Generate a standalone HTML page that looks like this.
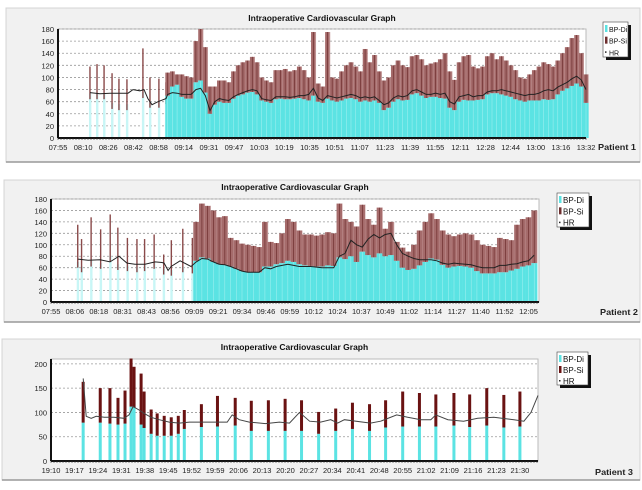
<!DOCTYPE html>
<html><head><meta charset="utf-8">
<style>
html,body{margin:0;padding:0;background:#fff;}
svg{display:block;font-family:"Liberation Sans",sans-serif;}
</style></head>
<body>
<svg id="chart" width="642" height="490" viewBox="0 0 642 490" xmlns="http://www.w3.org/2000/svg"></svg>
<script>
// ---------- Patient 1 data ----------
const p1XLabels = ["07:55","08:10","08:26","08:42","08:58","09:14","09:31","09:47","10:03","10:19","10:35","10:51","11:07","11:23","11:39","11:55","12:11","12:28","12:44","13:00","13:16","13:32"];
const p1SparseT = [20.4,24.9,29.4,34.5,38.9,44,54.2,58.7,64.4,68.9];
const p1SparseSys = [118,122,120,107,98,97,148,100,98,92];
const p1SparseDia = [74,74,74,58,56,56,76,60,60,66];
const p1SparseHrT = [20.4,26.8,33.2,44.7,47.9,52.3,54.9,57.4,60,63.8,68.9];
const p1SparseHr = [75,73,74,74,80,78,80,65,55,60,65];
const p1DenseStart = 70, p1DenseStep = 3;
const p1Sys = [108,110,105,105,102,100,160,180,150,85,85,95,95,92,110,120,125,128,134,125,100,95,92,112,112,114,110,112,118,112,100,175,90,85,175,100,98,110,120,125,118,110,147,125,137,110,95,100,120,128,120,117,135,137,130,120,123,125,130,140,110,96,125,135,137,118,115,118,135,140,130,135,128,120,112,100,98,105,112,118,125,122,118,128,140,150,165,170,140,105];
const p1Dia = [70,85,88,68,65,65,92,95,75,40,55,60,58,58,65,70,72,75,76,72,62,60,58,64,65,64,64,65,66,64,62,70,60,58,65,62,60,62,65,66,64,60,62,60,62,58,46,50,60,64,62,63,72,74,70,66,68,68,66,65,50,46,60,63,62,62,63,64,72,74,74,72,70,68,64,62,60,62,62,62,64,63,64,72,78,82,86,90,85,58];
const p1Hr = [72,75,74,72,72,72,80,82,70,45,60,65,63,62,68,72,75,78,80,78,65,63,62,68,68,68,67,68,70,70,72,82,66,62,70,68,66,68,70,72,70,66,68,66,68,62,55,58,66,70,68,70,78,80,76,72,72,74,72,74,60,56,68,70,72,68,70,70,76,78,78,80,78,76,74,72,70,72,72,74,78,80,78,84,88,92,98,102,96,80];

// ---------- Patient 2 data ----------
const p2XLabels = ["07:55","08:06","08:18","08:31","08:43","08:56","09:09","09:21","09:34","09:46","09:59","10:12","10:24","10:37","10:49","11:02","11:14","11:27","11:40","11:52","12:05"];
const p2SparseT = [14,16,21,26,31,35,40,45,49,54,59,63,69,74];
const p2SparseSys = [135,110,148,127,153,130,112,110,110,118,83,108,128,112];
const p2SparseDia = [70,62,72,68,80,66,64,62,64,68,58,56,62,60];
const p2SparseHrT = [14.1,19.4,25.7,30.9,35.6,39.8,44,49.2,54.5,58.1,59.2,61.3,62.9,67.6,73.3];
const p2SparseHr = [75,73,74,70,80,68,66,66,70,69,68,55,62,72,62];
const p2DenseStart = 76, p2DenseStep = 3;
const p2Sys = [140,172,168,160,148,150,112,108,102,100,98,96,140,105,103,120,145,140,125,118,118,116,118,122,120,172,145,140,132,170,145,135,165,128,140,105,95,88,100,125,140,155,145,125,118,115,118,120,118,108,100,98,96,112,110,108,135,145,148,160];
const p2Dia = [72,78,76,70,66,65,62,58,54,52,52,52,62,62,66,68,72,70,66,64,63,62,62,64,63,78,75,80,70,88,82,78,85,80,82,72,60,56,58,64,70,76,74,65,60,62,63,62,60,54,50,50,50,52,52,55,58,62,64,68];
const p2Hr = [70,76,75,70,66,65,62,58,54,52,52,52,60,58,62,64,66,64,62,62,62,61,60,60,60,80,85,108,100,96,110,118,112,118,120,100,85,80,76,74,74,74,72,68,66,68,67,66,65,62,60,60,60,64,64,66,67,70,72,82];

// ---------- Patient 3 data ----------
const p3XLabels = ["19:10","19:17","19:24","19:31","19:38","19:45","19:52","19:59","20:06","20:13","20:20","20:27","20:34","20:41","20:48","20:55","21:02","21:09","21:16","21:23","21:30"];
const p3T = [9.6,14.7,17.6,20,22.1,23.9,24.8,26.9,27.8,29.9,31.7,33.8,35.9,38,39.8,44.9,49.7,55,59.8,64.9,69.9,74.8,79.9,85,90,95.1,99.9,105,110,114.9,120.3,125,130.1,135.2,140];
const p3Sys = [163,150,150,130,145,211,194,180,143,106,98,93,90,93,105,117,134,130,124,125,128,125,101,108,120,117,125,143,140,137,140,137,150,136,143];
const p3Dia = [79,79,77,75,77,112,110,75,68,56,52,52,52,56,66,70,71,73,62,62,62,62,56,62,66,62,69,71,71,71,73,70,73,69,71];
const p3HrT = [9.6,10.5,12,13.5,15.9,18.8,21.8,23.3,24.5,26.3,27.8,29.9,32.3,35.3,38.3,41.3,44.3,48.8,52.6,54.1,56.2,59.2,64,68.2,71.2,74.2,77.2,80.5,83.5,85.6,87.6,95.4,98.4,103.2,106.5,110.4,113.4,114.9,118.5,123.2,127.4,132.2,138.2,141.2,143.3,145.4];
const p3Hr = [170,92,88,92,90,90,88,95,112,105,98,90,85,80,78,80,80,80,80,95,85,80,77,80,78,100,82,80,85,78,85,78,82,95,90,85,85,95,85,82,88,90,85,82,100,135];

const NS = "http://www.w3.org/2000/svg";
const svg = document.getElementById('chart');
function mk(tag, attrs, parent){
  const e = document.createElementNS(NS, tag);
  for (const k in attrs) e.setAttribute(k, attrs[k]);
  (parent||svg).appendChild(e);
  return e;
}
const CYAN = "#5be3e3", PALE = "#c8f6f6", BROWN = "#a56b6b", BLINE = "#6e2f2f", MAROON = "#6a1212";

function panel(cfg){
  const g = mk('g', {});
  
  
  const bg = mk('rect', {x:cfg.bx, y:cfg.by, width:cfg.bw, height:cfg.bh, fill:"#f1f1f1", stroke:"#d4d4d4"}, g);
  
  
  mk('line', {x1:cfg.bx, y1:cfg.by+cfg.bh, x2:cfg.bx+cfg.bw, y2:cfg.by+cfg.bh, stroke:"#999", 'stroke-width':1.5}, g);
  const L=cfg.L, R=cfg.R, T=cfg.T, B=cfg.B;
  const xs = t => L + t/cfg.tmax*(R-L);
  const ys = v => B - v/cfg.ymax*(B-T);
  const pa = mk('rect', {x:L, y:T, width:R-L, height:B-T, fill:"#fff", stroke:"#bbb"}, g);
  
  
  cfg.yticks.forEach(v=>{
    const y = ys(v);
    if (v>0) mk('line', {x1:L, y1:y, x2:R, y2:y, stroke:"#999", 'stroke-dasharray':"2,2", 'stroke-width':0.8}, g);
    const tx = mk('text', {x:L-4, y:y+3, 'font-size':7.5, 'text-anchor':'end', fill:"#222"}, g);
    tx.textContent = v;
    
    
  });
  if (cfg.sparseT){
    cfg.sparseT.forEach((t,i)=>{
      const x = xs(t);
      const d = mk('rect', {x:x-1, y:ys(cfg.sparseDia[i]), width:2.4, height:B-ys(cfg.sparseDia[i]), fill:PALE}, g);
      
      
      const s = mk('rect', {x:x-0.7, y:ys(cfg.sparseSys[i]), width:1.4, height:ys(cfg.sparseDia[i]-10)-ys(cfg.sparseSys[i]), fill:"#8a4a4a"}, g);
      
      
    });
  }
  if (cfg.sys && cfg.dense){
    const w = cfg.step/cfg.tmax*(R-L);
    cfg.sys.forEach((sv,i)=>{
      const x = xs(cfg.start + i*cfg.step);
      const dv = cfg.dia[i];
      const d = mk('rect', {x:x-w/2, y:ys(dv), width:w+0.3, height:B-ys(dv), fill:CYAN}, g);
      
      
      const s = mk('rect', {x:x-w/2, y:ys(sv), width:w+0.3, height:ys(dv)-ys(sv), fill:BROWN}, g);
      
      
      mk('line', {x1:x, y1:ys(sv), x2:x, y2:ys(dv), stroke:BLINE, 'stroke-width':0.7}, g);
      mk('line', {x1:x+w/2, y1:ys(sv), x2:x+w/2, y2:ys(dv), stroke:"#d8b8b8", 'stroke-width':0.5}, g);
      mk('line', {x1:x, y1:ys(dv), x2:x, y2:B, stroke:"#a8f0f0", 'stroke-width':0.5}, g);
    });
  }
  if (cfg.barT){
    cfg.barT.forEach((t,i)=>{
      const x = xs(t);
      const d = mk('rect', {x:x-1.5, y:ys(cfg.sys3dia[i]), width:3, height:B-ys(cfg.sys3dia[i]), fill:CYAN}, g);
      
      
      const s = mk('rect', {x:x-1.5, y:ys(cfg.sys3[i]), width:3, height:ys(cfg.sys3dia[i])-ys(cfg.sys3[i]), fill:MAROON}, g);
      
      
    });
  }
  let pts = [];
  if (cfg.hrT) cfg.hrT.forEach((t,i)=>pts.push([xs(t), ys(cfg.hrV[i])]));
  if (cfg.hr) cfg.hr.forEach((v,i)=>pts.push([xs(cfg.start+i*cfg.step), ys(v)]));
  const hl = mk('polyline', {points:pts.map(p=>p[0].toFixed(1)+','+p[1].toFixed(1)).join(' '), fill:'none', stroke:cfg.hrColor||'#222', 'stroke-width':1}, g);
  
  
  mk('line', {x1:L, y1:T, x2:L, y2:B, stroke:"#111", 'stroke-width':2}, g);
  mk('line', {x1:L, y1:B, x2:R, y2:B, stroke:"#111", 'stroke-width':2}, g);
  for (let x=L; x<=R; x+=3) mk('line', {x1:x, y1:B, x2:x, y2:B+2, stroke:"#333", 'stroke-width':0.6}, g);
  cfg.xlabels.forEach((lab,i)=>{
    const x = xs(i*cfg.xstep);
    const tx = mk('text', {x:x, y:B+12, 'font-size':7.5, 'text-anchor':'middle', fill:"#222"}, g);
    tx.textContent = lab;
    
    
  });
  const ti = mk('text', {x:(L+R)/2, y:cfg.titleY, 'font-size':8.5, 'font-weight':'bold', 'text-anchor':'middle', fill:"#111"}, g);
  ti.textContent = "Intraoperative Cardiovascular Graph";
  
  
  const lg = mk('g', {}, g);
  
  
  const [lx,ly,lw,lh] = cfg.leg;
  mk('rect', {x:lx+3, y:ly+3, width:lw, height:lh, fill:"#111"}, lg);
  mk('rect', {x:lx, y:ly, width:lw, height:lh, fill:"#fff", stroke:"#444", 'stroke-width':0.6}, lg);
  const items = [["BP-Di", CYAN],["BP-Si", cfg.barT?MAROON:BLINE],["HR","#222"]];
  items.forEach((it,i)=>{
    const yy = ly + 3 + i*lh/3;
    mk('rect', {x:lx+2, y:yy+(i==2?3:0), width:i==2?1.5:2.5, height:i==2?1.5:7, fill:it[1]}, lg);
    const t = mk('text', {x:lx+6, y:yy+7, 'font-size':cfg.legFont||8, fill:"#111"}, lg);
    t.textContent = it[0];
    
    
  });
  const pt = mk('text', {x:cfg.patX, y:cfg.patY, 'font-size':8.5, 'font-weight':'bold', fill:"#222", textLength:38, lengthAdjust:'spacingAndGlyphs'}, g);
  pt.textContent = cfg.patient;
  
  
}

panel({name:'patient-1-chart', bx:6,by:8,bw:634,bh:154, L:58,R:586,T:29,B:138, tmax:337, ymax:180, yticks:[0,20,40,60,80,100,120,140,160,180],
  xlabels:p1XLabels, xstep:16.05, titleY:21, leg:[603,22,25,35], legFont:7, patient:"Patient 1", patX:598, patY:150,
  sparseT:p1SparseT, sparseSys:p1SparseSys, sparseDia:p1SparseDia, hrT:p1SparseHrT, hrV:p1SparseHr,
  dense:true, start:p1DenseStart, step:p1DenseStep, sys:p1Sys, dia:p1Dia, hr:p1Hr});
panel({name:'patient-2-chart', bx:4,by:180,bw:636,bh:142, L:51,R:539,T:199,B:302, tmax:255.5, ymax:180, yticks:[0,20,40,60,80,100,120,140,160,180],
  xlabels:p2XLabels, xstep:12.5, titleY:190, leg:[557,193,32,34], patient:"Patient 2", patX:600, patY:315,
  sparseT:p2SparseT, sparseSys:p2SparseSys, sparseDia:p2SparseDia, hrT:p2SparseHrT, hrV:p2SparseHr,
  dense:true, start:p2DenseStart, step:p2DenseStep, sys:p2Sys, dia:p2Dia, hr:p2Hr});
panel({name:'patient-3-chart', bx:2,by:339,bw:638,bh:141, L:51,R:538,T:359,B:461, tmax:145.4, ymax:210, yticks:[0,50,100,150,200],
  xlabels:p3XLabels, xstep:7, titleY:350, leg:[557,352,31,33], patient:"Patient 3", patX:595, patY:475,
  barT:p3T, sys3:p3Sys, sys3dia:p3Dia, hrT:p3HrT, hrV:p3Hr, hrColor:'#444'});
</script>
</body></html>
